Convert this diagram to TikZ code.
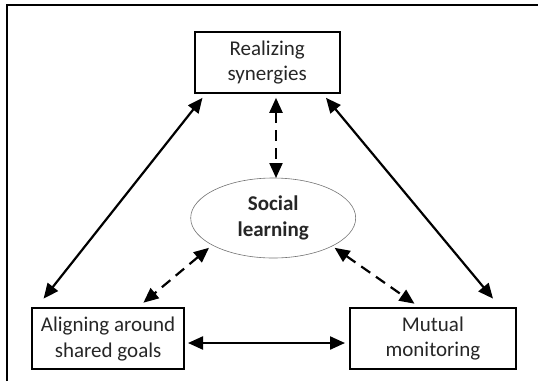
\documentclass[tikz,border=0pt]{standalone}
\usepackage{fontspec}
\setmainfont{Carlito}
\usetikzlibrary{arrows.meta,shapes.geometric}
\begin{document}
\begin{tikzpicture}[x=1pt,y=-1pt,
  box/.style={draw,line width=2pt,font=\fontsize{21}{25.5}\selectfont,align=center,inner sep=0pt},
  conn/.style={line width=2.2pt,{Triangle[length=15pt,width=13pt]}-{Triangle[length=15pt,width=13pt]}},
  dconn/.style={conn,dash pattern=on 11pt off 7pt},
  every node/.style={text=black!85}]
\useasboundingbox (0,0) rectangle (538,381);
\draw[line width=2pt] (7,381) -- (7,4.5) -- (538,4.5);
\node[box,minimum width=145pt,minimum height=61pt] (top) at (267.2,62.3) {Realizing\\synergies};
\node[box,minimum width=152pt,minimum height=61pt] (left) at (108.1,338.8) {Aligning around\\shared goals};
\node[box,minimum width=166pt,minimum height=61pt] (right) at (432.9,338.5) {Mutual\\monitoring};
\node[ellipse,draw=black!55,line width=0.6pt,minimum width=165pt,minimum height=80pt,inner sep=0pt,
  font=\bfseries\fontsize{21}{25.5}\selectfont,align=center] (soc) at (273.2,218) {Social\\learning};
\coordinate (a1) at (202.5,97.8); \coordinate (a2) at (43.6,298.6);
\coordinate (b1) at (326,97.8);   \coordinate (b2) at (493,298.6);
\coordinate (c1) at (188,343);    \coordinate (c2) at (345,343);
\coordinate (d1) at (276,97.8);   \coordinate (d2) at (276,178);
\coordinate (e1) at (209,247.8);  \coordinate (e2) at (143.4,302.7);
\coordinate (f1) at (334.6,247.8);\coordinate (f2) at (414.5,303.7);
\draw[conn] (a1) -- (a2);
\draw[conn] (b1) -- (b2);
\draw[conn] (c1) -- (c2);
\draw[dconn] (d1) -- (d2);
\draw[dconn] (e1) -- (e2);
\draw[dconn] (f1) -- (f2);
\end{tikzpicture}
\end{document}
